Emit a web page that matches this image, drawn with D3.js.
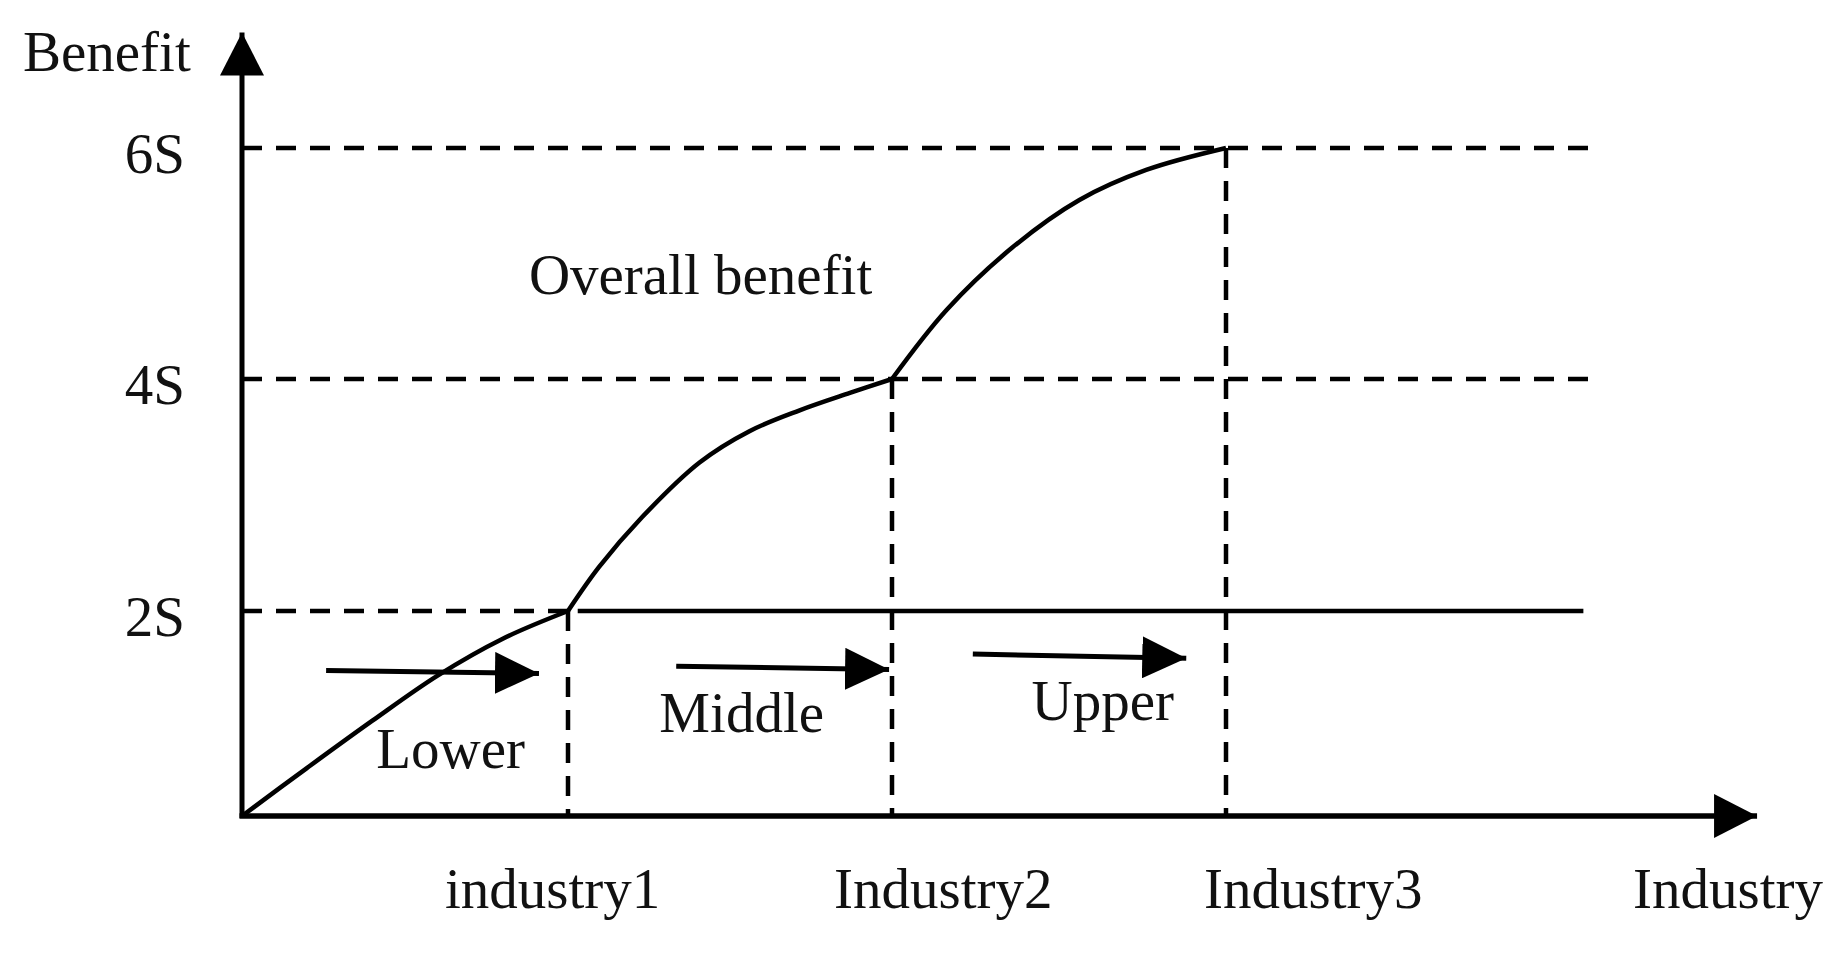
<!DOCTYPE html>
<html>
<head>
<meta charset="utf-8">
<script src="https://cdn.jsdelivr.net/npm/d3@7"></script>
<style>
  body { margin: 0; background: #fff; }
  svg { display: block; }
  text { font-family: "Liberation Serif", "Times New Roman", serif; fill: #111; }
</style>
</head>
<body>
<svg id="chart" width="1846" height="955"></svg>
<script>
// benefit levels (in S) and industry stages
const levels = [2, 4, 6]
const industries = ["industry1", "Industry2", "Industry3"]
const industryPos = [1, 2, 3]

// overall benefit curve, one piece per stage
const lowerX = [0, 0.2, 0.4, 0.6, 0.8, 1]
const lowerY = [0, 0.47, 0.93, 1.37, 1.73, 2]
const middleX = [1, 1.096, 1.229, 1.406, 1.56, 1.715, 1.87, 2]
const middleY = [2, 2.38, 2.81, 3.28, 3.55, 3.73, 3.88, 4]
const upperX = [2, 2.164, 2.361, 2.561, 2.761, 3]
const upperY = [4, 4.6, 5.14, 5.55, 5.81, 6]

// stage arrows: start/end x and y
const stageNames = ["Lower", "Middle", "Upper"]
const arrowX0 = [0.258, 1.334, 2.242]
const arrowX1 = [0.911, 1.991, 2.881]
const arrowY0 = [1.42, 1.46, 1.58]
const arrowY1 = [1.39, 1.43, 1.54]
const stageLabelX = [0.412, 1.282, 2.418]
const stageLabelY = [0.47, 0.82, 0.94]

const svg = d3.select("#chart")
const fs = 57

// the figure is hand drawn, so the scales are piecewise
const x = d3.scaleLinear().domain([0, 1, 2, 3]).range([242, 568, 892, 1226])
const y = d3.scaleLinear().domain([0, 2, 4, 6]).range([816, 611, 379, 148])

const defs = svg.append("defs")
function head(id, len, wid) {
    defs.append("marker")
        .attr("id", id)
        .attr("markerUnits", "userSpaceOnUse")
        .attr("viewBox", `0 ${-wid / 2} ${len} ${wid}`)
        .attr("refX", len).attr("refY", 0)
        .attr("markerWidth", len).attr("markerHeight", wid)
        .attr("orient", "auto")
        .append("path")
        .attr("d", `M0,${-wid / 2}L${len},0L0,${wid / 2}Z`)
        .attr("fill", "#000")
}
head("axisHead", 43, 44)
head("stageHead", 44, 42)

// dashed guides
const g = svg.append("g")
const dash = "20,14"
levels.forEach(v => {
    if (v === 2) {
        g.append("line")
            .attr("x1", x(0)).attr("x2", x(1))
            .attr("y1", y(v)).attr("y2", y(v))
            .attr("stroke", "#000").attr("stroke-width", 4.5).attr("stroke-dasharray", dash)
        g.append("line")
            .attr("x1", x(1.03)).attr("x2", x(4.07))
            .attr("y1", y(v)).attr("y2", y(v))
            .attr("stroke", "#000").attr("stroke-width", 4.5)
    } else {
        g.append("line")
            .attr("x1", x(0)).attr("x2", x(4.12))
            .attr("y1", y(v)).attr("y2", y(v))
            .attr("stroke", "#000").attr("stroke-width", 4.5).attr("stroke-dasharray", dash)
    }
})
industryPos.forEach((p, i) => {
    g.append("line")
        .attr("x1", x(p)).attr("x2", x(p))
        .attr("y1", y(levels[i])).attr("y2", y(0))
        .attr("stroke", "#000").attr("stroke-width", 4.5).attr("stroke-dasharray", "20,13")
})

// axes with arrow heads
svg.append("line")
    .attr("x1", x(0)).attr("y1", y(0) + 2).attr("x2", x(0)).attr("y2", y(7.0))
    .attr("stroke", "#000").attr("stroke-width", 5)
    .attr("marker-end", "url(#axisHead)")
svg.append("line")
    .attr("x1", x(0) - 2.5).attr("y1", y(0)).attr("x2", x(4.59)).attr("y2", y(0))
    .attr("stroke", "#000").attr("stroke-width", 5.5)
    .attr("marker-end", "url(#axisHead)")

const yAxis = svg.append("g")
    .attr("transform", `translate(${x(0)},0)`)
    .call(d3.axisLeft(y).tickValues(levels).tickFormat(d => d + "S").tickSize(0).tickPadding(57))
yAxis.select(".domain").remove()
yAxis.selectAll("text")
    .attr("dy", 24)
    .style("font-size", fs + "px")
    .style("font-family", "Liberation Serif")
    .attr("fill", "#111")

// curve
const line = d3.line().x(d => x(d[0])).y(d => y(d[1])).curve(d3.curveCatmullRom.alpha(0.5))
const pieces = [
    [lowerX, lowerY],
    [middleX, middleY],
    [upperX, upperY]
]
pieces.forEach(p => {
    svg.append("path")
        .datum(d3.zip(p[0], p[1]))
        .attr("d", line)
        .attr("fill", "none")
        .attr("stroke", "#000")
        .attr("stroke-width", 4.5)
        .attr("stroke-linejoin", "round")
})

// stage arrows and names
stageNames.forEach((s, i) => {
    svg.append("line")
        .attr("x1", x(arrowX0[i])).attr("y1", y(arrowY0[i]))
        .attr("x2", x(arrowX1[i])).attr("y2", y(arrowY1[i]))
        .attr("stroke", "#000").attr("stroke-width", 5)
        .attr("marker-end", "url(#stageHead)")
    svg.append("text")
        .attr("x", x(stageLabelX[i])).attr("y", y(stageLabelY[i]))
        .style("font-size", fs + "px")
        .text(s)
})

// labels
svg.append("text").attr("x", 23).attr("y", 71).style("font-size", fs + "px").text("Benefit")
svg.append("text").attr("x", x(0.88)).attr("y", y(4.74)).style("font-size", fs + "px").text("Overall benefit")

const labelDx = [-123, -58, -22]
industries.forEach((t, i) => {
    svg.append("text")
        .attr("x", x(industryPos[i]) + labelDx[i])
        .attr("y", 908)
        .style("font-size", fs + "px")
        .text(t)
})
svg.append("text").attr("x", 1633).attr("y", 908).style("font-size", fs + "px").text("Industry")
</script>
</body>
</html>
